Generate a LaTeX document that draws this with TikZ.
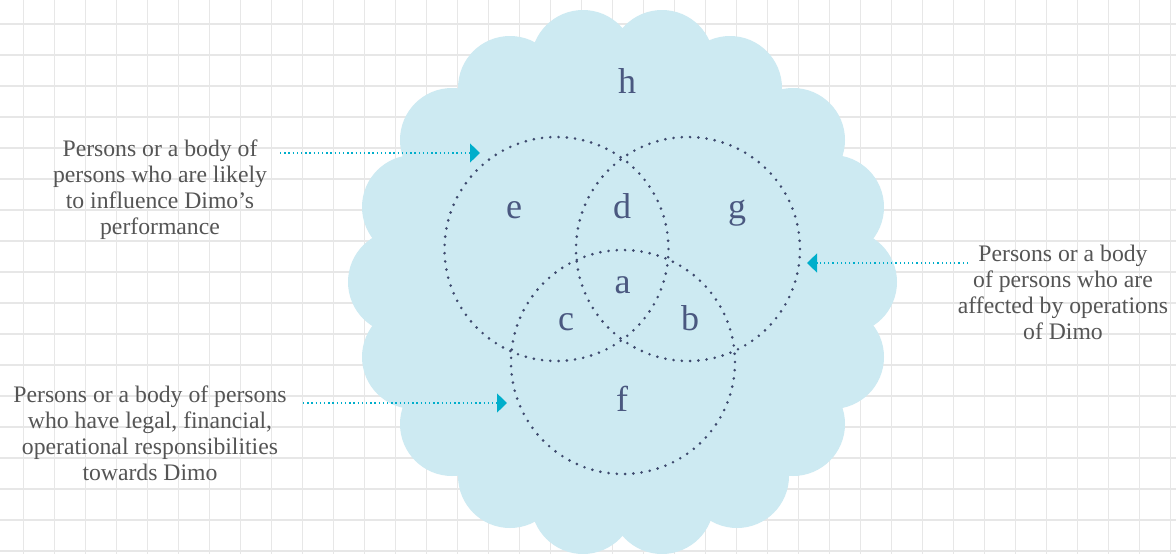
\documentclass[tikz,border=0pt]{standalone}
\usepackage{fontspec}
\setmainfont{Liberation Serif}
\usetikzlibrary{arrows.meta}
\definecolor{gridc}{RGB}{231,231,231}
\definecolor{cloudc}{RGB}{205,234,242}
\definecolor{dotc}{RGB}{62,74,110}
\definecolor{letc}{RGB}{74,88,128}
\definecolor{arrc}{RGB}{0,174,203}
\definecolor{txtc}{RGB}{85,85,85}
\begin{document}
\begin{tikzpicture}[x=1pt,y=-1pt,
  gridline/.style={gridc, line width=1.3pt},
  bump/.style={cloudc},
  setcircle/.style={dotc, line width=2.9pt, line cap=round, dash pattern=on 0pt off 8.28pt},
  region/.style={letc, font=\fontsize{36}{36}\selectfont, inner sep=0pt, anchor=base},
  caption/.style={txtc, font=\fontsize{23.7}{26}\selectfont, align=center, inner sep=0pt},
  pointer/.style={arrc, line width=1.3pt, dash pattern=on 1.3pt off 2.9pt, -{Triangle[length=10pt,width=19pt]}},
]
\useasboundingbox (0,0) rectangle (1176,554);
\fill[white] (0,0) rectangle (1176,554);
% grid
\foreach \i in {0,...,37} \draw[gridline] ({23.3+31*\i},0) -- ({23.3+31*\i},554);
\foreach \j in {0,...,17} \draw[gridline] (0,{24+31*\j}) -- (1176,{24+31*\j});
% cloud
\fill[bump] (583,62) -- (662,62) -- (730,88) -- (793,140) -- (832,207) -- (845,282) -- (832,357) -- (793,424) -- (737,476) -- (662,502) -- (583,502) -- (510,476) -- (452,424) -- (414,357) -- (400,282) -- (414,207) -- (452,140) -- (510,88) -- cycle;
\foreach \p in {(583,62),(662,62),(730,88),(793,140),(832,207),(845,282),(832,357),(793,424),(737,476),(662,502),(583,502),(510,476),(452,424),(414,357),(400,282),(414,207),(452,140),(510,88)}
  \fill[bump] \p circle[radius=52pt];
% three sets
\draw[setcircle] (556.5,249) circle[radius=112pt];
\draw[setcircle] (688,249) circle[radius=112pt];
\draw[setcircle] (623,362) circle[radius=112pt];
% region letters
\node[region] (h) at (627,93) {h};
\node[region] (e) at (514,218) {e};
\node[region] (d) at (622,218) {d};
\node[region] (g) at (737,218) {g};
\node[region] (a) at (622.5,293) {a};
\node[region] (c) at (566,330) {c};
\node[region] (b) at (690,330) {b};
\node[region] (f) at (622,411) {f};
% captions
\node[caption] (influence) at (160,190) {Persons or a body of\\persons who are likely\\to influence Dimo’s\\performance};
\node[caption] (affected) at (1063,292.4) {Persons or a body\\of persons who are\\affected by operations\\of Dimo};
\node[caption] (responsible) at (150,432.9) {Persons or a body of persons\\who have legal, financial,\\operational responsibilities\\towards Dimo};
% pointers
\coordinate (t1) at (280,153);
\coordinate (h1) at (480,153);
\coordinate (t2) at (968,263);
\coordinate (h2) at (807,263);
\coordinate (t3) at (303,403);
\coordinate (h3) at (507,403);
\draw[pointer] (t1) -- (h1);
\draw[pointer] (t2) -- (h2);
\draw[pointer] (t3) -- (h3);
\end{tikzpicture}
\end{document}
